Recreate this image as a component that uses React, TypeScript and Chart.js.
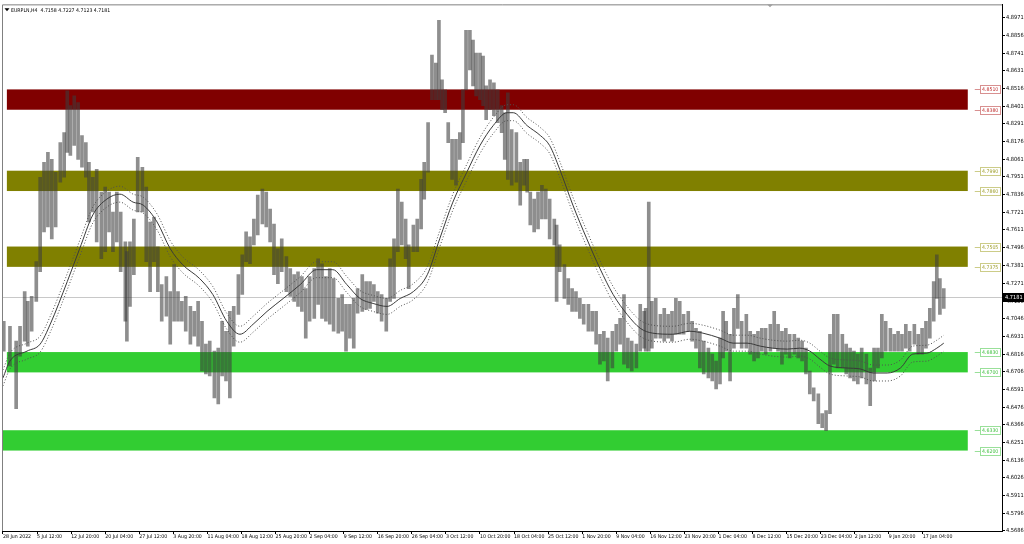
import React, { useEffect, useRef } from "react";
import { Chart, registerables } from "chart.js";

Chart.register(...registerables);

const TITLE = "EURPLN,H4  4.7158 4.7227 4.7123 4.7181";
const BID = 4.7181;
const FONT = "'Liberation Sans Narrow', 'DejaVu Sans Condensed', 'Liberation Sans', sans-serif";

// H4 bar index of each sampled price bar
const barTimes = [
  1, 9, 17, 22, 28, 32, 37, 43, 48, 53, 58, 63, 68, 74, 79, 83, 87, 92, 97, 102,
  107, 111, 116, 121, 127, 132, 137, 142, 147, 152, 158, 160, 164, 169, 174, 180, 185, 190, 195, 200,
  205, 211, 216, 221, 226, 231, 236, 242, 247, 252, 257, 262, 267, 273, 278, 283, 288, 293, 298, 304,
  309, 314, 319, 324, 329, 335, 340, 345, 350, 355, 360, 366, 371, 376, 381, 386, 391, 396, 402, 407,
  412, 417, 422, 427, 433, 438, 443, 448, 453, 458, 464, 469, 474, 479, 484, 489, 495, 500, 505, 510,
  515, 520, 524, 530, 535, 540, 544, 549, 554, 559, 563, 567, 571, 575, 580, 585, 590, 594, 598, 603,
  607, 611, 616, 620, 624, 629, 634, 639, 644, 648, 652, 657, 663, 668, 673, 677, 681, 686, 691, 696,
  701, 706, 712, 715, 719, 725, 730, 735, 740, 745, 750, 756, 761, 766, 771, 776, 781, 787, 792, 797,
  802, 807, 812, 818, 823, 828, 830, 834, 838, 843, 849, 854, 859, 864, 869, 874, 879, 885, 890, 895,
  900, 905, 911, 916, 921, 926, 930, 934, 939, 944, 949, 954, 960, 965, 970, 975, 980, 985, 991, 996,
  1001, 1006, 1011, 1016, 1022, 1027, 1032, 1037, 1042, 1047, 1053, 1058, 1063, 1068, 1073, 1078, 1084, 1089, 1094, 1099,
  1104, 1109, 1115, 1120, 1125, 1130, 1135, 1140, 1146, 1151, 1156, 1161, 1166, 1171, 1177, 1182, 1187, 1192, 1197, 1202,
  1206, 1210, 1215,
];

const barHighs = [
  4.7027, 4.6995, 4.6900, 4.6995, 4.7217, 4.7154, 4.7186, 4.7408, 4.7948, 4.8043,
  4.8107, 4.8062, 4.7980, 4.8170, 4.8234, 4.8501, 4.8406, 4.8469, 4.8425, 4.8215,
  4.8170, 4.8043, 4.7948, 4.7999, 4.7853, 4.7885, 4.7853, 4.7726, 4.7853, 4.7726,
  4.7535, 4.7472, 4.7535, 4.7681, 4.8075, 4.8012, 4.7885, 4.7662, 4.7694, 4.7503,
  4.7262, 4.7313, 4.7217, 4.7389, 4.7217, 4.7154, 4.7186, 4.7122, 4.7090, 4.7154,
  4.7027, 4.6881, 4.6900, 4.6836, 4.6855, 4.7027, 4.6963, 4.7090, 4.7122, 4.7325,
  4.7452, 4.7599, 4.7567, 4.7681, 4.7834, 4.7872, 4.7853, 4.7745, 4.7649, 4.7491,
  4.7554, 4.7440, 4.7364, 4.7325, 4.7344, 4.7313, 4.7236, 4.7313, 4.7364, 4.7427,
  4.7395, 4.7313, 4.7364, 4.7300, 4.7173, 4.7198, 4.7135, 4.7135, 4.7173, 4.7236,
  4.7325, 4.7281, 4.7281, 4.7262, 4.7217, 4.7198, 4.7173, 4.7427, 4.7554, 4.7872,
  4.7789, 4.7681, 4.7516, 4.7643, 4.7681, 4.7935, 4.8043, 4.8298, 4.8730, 4.8679,
  4.8952, 4.8571, 4.8507, 4.8298, 4.8190, 4.8190, 4.8234, 4.8507, 4.8888, 4.8888,
  4.8825, 4.8742, 4.8742, 4.8723, 4.8533, 4.8571, 4.8552, 4.8507, 4.8406, 4.8361,
  4.8488, 4.8253, 4.8234, 4.8043, 4.8062, 4.8062, 4.7853, 4.7808, 4.7853, 4.7897,
  4.7872, 4.7808, 4.7681, 4.7643, 4.7516, 4.7389, 4.7300, 4.7236, 4.7217, 4.7173,
  4.7135, 4.7135, 4.7090, 4.7090, 4.6944, 4.6963, 4.6919, 4.6963, 4.7008, 4.7046,
  4.7198, 4.6919, 4.6900, 4.6881, 4.7135, 4.7090, 4.7109, 4.7789, 4.7154, 4.7173,
  4.7071, 4.7109, 4.7071, 4.7090, 4.7173, 4.7154, 4.7071, 4.7090, 4.7027, 4.6982,
  4.6963, 4.6900, 4.6855, 4.6817, 4.6773, 4.6919, 4.7090, 4.7027, 4.6944, 4.7109,
  4.7198, 4.7027, 4.7071, 4.6963, 4.6944, 4.6963, 4.6982, 4.6982, 4.7008, 4.7090,
  4.7008, 4.6963, 4.6982, 4.6944, 4.6944, 4.6919, 4.6900, 4.6855, 4.6709, 4.6601,
  4.6563, 4.6436, 4.6455, 4.6944, 4.7071, 4.7071, 4.6944, 4.6881, 4.6855, 4.6836,
  4.6817, 4.6855, 4.6817, 4.6728, 4.6855, 4.6855, 4.7071, 4.7027, 4.6982, 4.6944,
  4.6963, 4.6944, 4.7008, 4.6963, 4.7008, 4.6944, 4.6982, 4.7027, 4.7109, 4.7281,
  4.7452, 4.7300, 4.7236,
];

const barLows = [
  4.6836, 4.6741, 4.6468, 4.6804, 4.6900, 4.6868, 4.6963, 4.7154, 4.7344, 4.7599,
  4.7630, 4.7554, 4.7630, 4.7916, 4.7948, 4.8107, 4.8088, 4.8151, 4.8062, 4.8012,
  4.7948, 4.7662, 4.7726, 4.7535, 4.7427, 4.7472, 4.7599, 4.7472, 4.7535, 4.7344,
  4.7027, 4.6900, 4.7122, 4.7325, 4.7726, 4.7726, 4.7408, 4.7217, 4.7408, 4.7217,
  4.7027, 4.7059, 4.6881, 4.7027, 4.7027, 4.7027, 4.6963, 4.6881, 4.6931, 4.6868,
  4.6709, 4.6690, 4.6677, 4.6537, 4.6499, 4.6677, 4.6645, 4.6537, 4.6868, 4.7071,
  4.7198, 4.7408, 4.7395, 4.7516, 4.7580, 4.7649, 4.7630, 4.7535, 4.7325, 4.7268,
  4.7344, 4.7217, 4.7186, 4.7154, 4.7122, 4.7090, 4.6919, 4.7027, 4.7046, 4.7135,
  4.7046, 4.7027, 4.7008, 4.6963, 4.6951, 4.6963, 4.6836, 4.6919, 4.6855, 4.7078,
  4.7090, 4.7103, 4.7109, 4.7154, 4.7078, 4.7027, 4.6963, 4.7154, 4.7173, 4.7472,
  4.7516, 4.7427, 4.7236, 4.7472, 4.7472, 4.7618, 4.7808, 4.7980, 4.8444, 4.8444,
  4.8444, 4.8380, 4.8361, 4.8170, 4.7935, 4.7897, 4.8062, 4.8170, 4.8507, 4.8634,
  4.8533, 4.8469, 4.8444, 4.8406, 4.8317, 4.8380, 4.8342, 4.8298, 4.8234, 4.8062,
  4.7935, 4.7897, 4.7916, 4.7770, 4.7897, 4.7853, 4.7643, 4.7599, 4.7618, 4.7681,
  4.7681, 4.7554, 4.7516, 4.7154, 4.7344, 4.7173, 4.7135, 4.7090, 4.7090, 4.7046,
  4.7008, 4.6963, 4.6963, 4.6881, 4.6753, 4.6773, 4.6645, 4.6728, 4.6836, 4.6881,
  4.6753, 4.6728, 4.6709, 4.6728, 4.6836, 4.6855, 4.6836, 4.6836, 4.6855, 4.6919,
  4.6919, 4.6900, 4.6919, 4.6900, 4.6944, 4.6944, 4.6944, 4.6963, 4.6900, 4.6855,
  4.6728, 4.6690, 4.6665, 4.6645, 4.6595, 4.6626, 4.6792, 4.6836, 4.6645, 4.6855,
  4.6982, 4.6855, 4.6855, 4.6817, 4.6773, 4.6792, 4.6836, 4.6817, 4.6836, 4.6855,
  4.6836, 4.6753, 4.6817, 4.6792, 4.6817, 4.6792, 4.6773, 4.6690, 4.6563, 4.6518,
  4.6372, 4.6347, 4.6328, 4.6436, 4.6753, 4.6728, 4.6728, 4.6690, 4.6665, 4.6645,
  4.6626, 4.6665, 4.6626, 4.6487, 4.6645, 4.6728, 4.6792, 4.6836, 4.6836, 4.6836,
  4.6836, 4.6836, 4.6855, 4.6836, 4.6881, 4.6817, 4.6817, 4.6855, 4.6919, 4.7027,
  4.7173, 4.7071, 4.7109,
];

// Moving average and envelope
const maTimes = [
  0, 9, 31, 48, 61, 83, 99, 116, 134, 151, 168, 181, 199, 216, 232, 254, 271, 289, 306, 323,
  341, 362, 384, 405, 426, 444, 461, 478, 496, 513, 530, 548, 564, 581, 599, 616, 633, 651, 659, 677,
  694, 706, 719, 736, 754, 771, 788, 806, 823, 839, 865, 887, 904, 926, 943, 961, 978, 994, 1013, 1029,
  1042, 1055, 1068, 1090, 1107, 1124, 1142, 1159, 1175, 1193, 1206, 1215,
];
const maValues = [
  4.6665, 4.6773, 4.6836, 4.6881, 4.7008, 4.7281, 4.7491, 4.7707, 4.7808, 4.7840,
  4.7789, 4.7770, 4.7662, 4.7491, 4.7389, 4.7300, 4.7198, 4.7027, 4.6944, 4.7008,
  4.7090, 4.7173, 4.7262, 4.7357, 4.7357, 4.7262, 4.7173, 4.7141, 4.7122, 4.7173,
  4.7217, 4.7325, 4.7554, 4.7789, 4.7980, 4.8151, 4.8278, 4.8361, 4.8361, 4.8278,
  4.8215, 4.8151, 4.7999, 4.7770, 4.7554, 4.7364, 4.7198, 4.7071, 4.6982, 4.6951,
  4.6944, 4.6963, 4.6951, 4.6919, 4.6887, 4.6887, 4.6868, 4.6855, 4.6849, 4.6855,
  4.6836, 4.6785, 4.6741, 4.6728, 4.6722, 4.6696, 4.6696, 4.6728, 4.6817, 4.6823,
  4.6855, 4.6887,
];
const envUpper = [
  4.6716, 4.6824, 4.6887, 4.6932, 4.7059, 4.7332, 4.7542, 4.7758, 4.7859, 4.7891,
  4.7840, 4.7821, 4.7713, 4.7542, 4.7440, 4.7351, 4.7249, 4.7078, 4.6995, 4.7059,
  4.7141, 4.7224, 4.7313, 4.7408, 4.7408, 4.7313, 4.7224, 4.7192, 4.7173, 4.7224,
  4.7268, 4.7376, 4.7605, 4.7840, 4.8031, 4.8202, 4.8329, 4.8412, 4.8412, 4.8329,
  4.8266, 4.8202, 4.8050, 4.7821, 4.7605, 4.7415, 4.7249, 4.7122, 4.7033, 4.7002,
  4.6995, 4.7014, 4.7002, 4.6970, 4.6938, 4.6938, 4.6919, 4.6906, 4.6900, 4.6906,
  4.6887, 4.6836, 4.6792, 4.6779, 4.6773, 4.6747, 4.6747, 4.6779, 4.6868, 4.6874,
  4.6906, 4.6938,
];
const envLower = [
  4.6614, 4.6722, 4.6785, 4.6830, 4.6957, 4.7230, 4.7440, 4.7656, 4.7757, 4.7789,
  4.7738, 4.7719, 4.7611, 4.7440, 4.7338, 4.7249, 4.7147, 4.6976, 4.6893, 4.6957,
  4.7039, 4.7122, 4.7211, 4.7306, 4.7306, 4.7211, 4.7122, 4.7090, 4.7071, 4.7122,
  4.7166, 4.7274, 4.7503, 4.7738, 4.7929, 4.8100, 4.8227, 4.8310, 4.8310, 4.8227,
  4.8164, 4.8100, 4.7948, 4.7719, 4.7503, 4.7313, 4.7147, 4.7020, 4.6931, 4.6900,
  4.6893, 4.6912, 4.6900, 4.6868, 4.6836, 4.6836, 4.6817, 4.6804, 4.6798, 4.6804,
  4.6785, 4.6734, 4.6690, 4.6677, 4.6671, 4.6645, 4.6645, 4.6677, 4.6766, 4.6772,
  4.6804, 4.6836,
];

// Horizontal zones
const zoneTops = [4.851, 4.799, 4.7505, 4.683, 4.633];
const zoneBottoms = [4.838, 4.786, 4.7375, 4.67, 4.62];
const zoneColors = ["#800000", "#808000", "#808000", "#32cd32", "#32cd32"];
const zoneTextColors = ["#c03030", "#a0a030", "#a0a030", "#40c040", "#40c040"];
const zoneBorderColors = ["#d89090", "#cccc88", "#cccc88", "#99e099", "#99e099"];
const zoneStarts = [5, 5, 5, 5, 0];
const ZONE_END = 1246;

const priceTicks = [
  4.8971, 4.8856, 4.8741, 4.8631, 4.8516, 4.8401, 4.8291, 4.8176, 4.8061, 4.7951,
  4.7836, 4.7721, 4.7611, 4.7496, 4.7381, 4.7271, 4.7156, 4.7046, 4.6931, 4.6816,
  4.6706, 4.6591, 4.6476, 4.6366, 4.6251, 4.6136, 4.6026, 4.5911, 4.5796, 4.5686,
];
const timeLabels = [
  "28 Jun 2022", "5 Jul 12:00", "12 Jul 20:00", "20 Jul 04:00", "27 Jul 12:00", "3 Aug 20:00",
  "11 Aug 04:00", "18 Aug 12:00", "25 Aug 20:00", "2 Sep 04:00", "9 Sep 12:00", "16 Sep 20:00",
  "26 Sep 04:00", "3 Oct 12:00", "10 Oct 20:00", "18 Oct 04:00", "25 Oct 12:00", "1 Nov 20:00",
  "9 Nov 04:00", "16 Nov 12:00", "23 Nov 20:00", "1 Dec 04:00", "8 Dec 12:00", "15 Dec 20:00",
  "23 Dec 04:00", "2 Jan 12:00", "9 Jan 20:00", "17 Jan 04:00",
];
const BARS_PER_LABEL = 44;
const X_MIN = -1.29;
const X_MAX = 1290.2;
const Y_MIN = 4.56855;
const Y_MAX = 4.9054;
const SMALL = 5.2;
const AXIS_FONT = 5.6;

const overlay = {
  id: "overlay",
  beforeDatasetsDraw(chart: any) {
    const { ctx, chartArea: a, scales } = chart;
    const x = scales.x;
    const y = scales.y;
    ctx.save();
    zoneTops.forEach((t, i) => {
      const x0 = x.getPixelForValue(zoneStarts[i]);
      const x1 = x.getPixelForValue(ZONE_END);
      const y0 = y.getPixelForValue(t);
      const y1 = y.getPixelForValue(zoneBottoms[i]);
      ctx.fillStyle = zoneColors[i];
      ctx.fillRect(x0, y0, x1 - x0, y1 - y0);
    });
    const by = Math.round(y.getPixelForValue(BID)) + 0.5;
    ctx.strokeStyle = "#c8c8c8";
    ctx.lineWidth = 1;
    ctx.beginPath();
    ctx.moveTo(a.left, by);
    ctx.lineTo(a.right, by);
    ctx.stroke();
    ctx.restore();
  },
  afterDraw(chart: any) {
    const { ctx, chartArea: a, scales } = chart;
    const x = scales.x;
    const y = scales.y;
    ctx.save();
    // frame
    ctx.strokeStyle = "#808080";
    ctx.lineWidth = 1;
    ctx.beginPath();
    ctx.moveTo(a.left + 0.5, a.bottom);
    ctx.lineTo(a.left + 0.5, a.top + 0.5);
    ctx.lineTo(a.right, a.top + 0.5);
    ctx.stroke();
    // shift marker
    ctx.fillStyle = "#a0a0a0";
    ctx.beginPath();
    ctx.moveTo(a.right - 235, a.top);
    ctx.lineTo(a.right - 229, a.top);
    ctx.lineTo(a.right - 232, a.top + 3);
    ctx.closePath();
    ctx.fill();
    // zone price labels
    ctx.font = `${SMALL}px ${FONT}`;
    ctx.textBaseline = "middle";
    ctx.textAlign = "left";
    const xEnd = x.getPixelForValue(ZONE_END);
    zoneTops.forEach((t, i) => {
      [t, zoneBottoms[i]].forEach((v) => {
        const py = Math.round(y.getPixelForValue(v)) + 0.5;
        const bx = a.right - 21.5;
        ctx.strokeStyle = zoneBorderColors[i];
        ctx.beginPath();
        ctx.moveTo(xEnd + 7, py);
        ctx.lineTo(bx, py);
        ctx.stroke();
        ctx.fillStyle = "#ffffff";
        ctx.fillRect(bx, py - 4, 20, 8);
        ctx.strokeRect(bx, py - 4, 20, 8);
        ctx.fillStyle = zoneTextColors[i];
        ctx.fillText(v.toFixed(4), bx + 1.5, py + 0.5);
      });
    });
    // bid price box
    const by = Math.round(y.getPixelForValue(BID));
    ctx.fillStyle = "#000000";
    ctx.fillRect(a.right, by - 4, 22, 9);
    ctx.fillStyle = "#ffffff";
    ctx.font = `${AXIS_FONT}px ${FONT}`;
    ctx.fillText(BID.toFixed(4), a.right + 3, by + 0.5);
    // title
    ctx.fillStyle = "#000000";
    ctx.beginPath();
    ctx.moveTo(a.left + 2.5, a.top + 4);
    ctx.lineTo(a.left + 7.5, a.top + 4);
    ctx.lineTo(a.left + 5, a.top + 7);
    ctx.closePath();
    ctx.fill();
    ctx.font = `${SMALL}px ${FONT}`;
    ctx.fillText(TITLE, a.left + 9, a.top + 6);
    ctx.restore();
  },
};

export default function App() {
  const ref = useRef<HTMLCanvasElement | null>(null);
  useEffect(() => {
    document.body.style.margin = "0";
    const canvas = ref.current;
    if (!canvas) return;
    const chart = new Chart(canvas, {
      type: "bar",
      data: {
        datasets: [
          {
            type: "line",
            data: maTimes.map((t, i) => ({ x: t, y: maValues[i] })),
            borderColor: "#3a3a3a",
            borderWidth: 1,
            pointRadius: 0,
            cubicInterpolationMode: "monotone",
            order: 0,
          } as any,
          {
            type: "line",
            data: maTimes.map((t, i) => ({ x: t, y: envUpper[i] })),
            borderColor: "#505050",
            borderWidth: 1,
            borderDash: [1, 2],
            pointRadius: 0,
            cubicInterpolationMode: "monotone",
            order: 0,
          } as any,
          {
            type: "line",
            data: maTimes.map((t, i) => ({ x: t, y: envLower[i] })),
            borderColor: "#505050",
            borderWidth: 1,
            borderDash: [1, 2],
            pointRadius: 0,
            cubicInterpolationMode: "monotone",
            order: 0,
          } as any,
          {
            type: "bar",
            data: barTimes.map((t, i) => ({ x: t, y: [barLows[i], barHighs[i]] })),
            backgroundColor: "rgba(60,60,60,0.58)",
            borderWidth: 0,
            barThickness: 3,
            order: 1,
          } as any,
        ],
      },
      options: {
        responsive: false,
        animation: false,
        devicePixelRatio: 1,
        layout: { padding: { left: 2, top: 1, right: 0, bottom: 0 } },
        plugins: { legend: { display: false }, tooltip: { enabled: false } },
        scales: {
          x: {
            type: "linear",
            min: X_MIN,
            max: X_MAX,
            offset: false,
            position: "bottom",
            grid: { display: true, drawOnChartArea: false, drawTicks: true, tickLength: 3, color: "#000000", offset: false },
            border: { display: true, color: "#000000", width: 1 },
            ticks: {
              align: "start",
              maxRotation: 0,
              minRotation: 0,
              autoSkip: false,
              padding: 0,
              color: "#000000",
              font: { family: FONT, size: SMALL },
              callback: (v: any) => {
                const idx = Math.round(Number(v) / BARS_PER_LABEL);
                return timeLabels[idx] ?? "";
              },
            },
            afterBuildTicks: (scale: any) => {
              scale.ticks = timeLabels.map((_, i) => ({ value: i * BARS_PER_LABEL }));
            },
            afterFit: (scale: any) => {
              scale.height = 13;
            },
          },
          y: {
            type: "linear",
            position: "right",
            min: Y_MIN,
            max: Y_MAX,
            beginAtZero: false,
            grid: { display: true, drawOnChartArea: false, drawTicks: true, tickLength: 3, color: "#000000" },
            border: { display: true, color: "#000000", width: 1 },
            ticks: {
              padding: 1,
              color: "#000000",
              font: { family: FONT, size: AXIS_FONT },
              callback: (v: any) => Number(v).toFixed(4),
            },
            afterBuildTicks: (scale: any) => {
              scale.ticks = priceTicks.map((v) => ({ value: v }));
            },
            afterFit: (scale: any) => {
              scale.width = 22;
            },
          },
        },
      } as any,
      plugins: [overlay],
    });
    return () => chart.destroy();
  }, []);
  return (
    <div style={{ width: 1024, height: 544, background: "#ffffff" }}>
      <canvas ref={ref} width={1024} height={544} style={{ display: "block" }} />
    </div>
  );
}
